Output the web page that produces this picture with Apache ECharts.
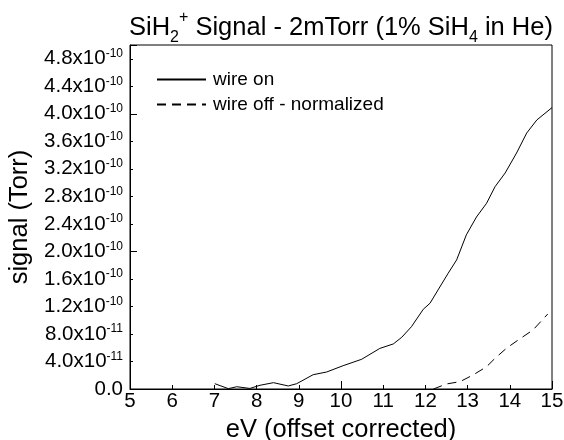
<!DOCTYPE html>
<html>
<head>
<meta charset="utf-8">
<script src="https://cdn.jsdelivr.net/npm/echarts@6/dist/echarts.min.js"></script>
<style>
html,body{margin:0;padding:0;background:#fff}
#main{width:564px;height:440px}
</style>
</head>
<body>
<div id="main"></div>
<script>
// eV (offset corrected)
var xWireOn=[7.01,7.33,7.53,7.84,8.08,8.40,8.75,8.95,9.34,9.66,10.05,10.49,10.92,11.24,11.44,11.67,11.95,12.11,12.30,12.54,12.74,12.97,13.21,13.45,13.65,13.89,14.16,14.40,14.64,15.0]
// signal, in units of 1e-10 Torr
var yWireOn=[0.077,0.005,0.033,0.008,0.054,0.092,0.044,0.077,0.208,0.247,0.339,0.432,0.59,0.655,0.752,0.906,1.159,1.247,1.44,1.683,1.876,2.24,2.5,2.70,2.94,3.14,3.43,3.72,3.91,4.09]
var xWireOff=[12.19,12.50,12.82,13.13,13.45,13.65,13.92,14.20,14.55,14.90]
var yWireOff=[0.0,0.073,0.107,0.204,0.324,0.446,0.592,0.713,0.858,1.09]
var yTicks=[0,0.4,0.8,1.2,1.6,2.0,2.4,2.8,3.2,3.6,4.0,4.4,4.8]
var seriesNames=['wire on','wire off - normalized']

var SCALE=1e-10

function pairs(xs,ys){
    var out=[]
    for(var i=0;i<xs.length;i++) out.push([xs[i],ys[i]*SCALE])
    return out
}

//y轴标签 4.0x10^-10
function sciLabel(v){
    if(Math.abs(v)<1e-15) return '{a|0.0}'
    var found=false
    for(var i=0;i<yTicks.length;i++){
        if(Math.abs(yTicks[i]*SCALE-v)<1e-13) found=true
    }
    if(!found) return ''
    var exp=Math.floor(Math.log10(v)+1e-9)
    var m=v/Math.pow(10,exp)
    return '{a|'+m.toFixed(1)+'x10}{b|'+exp+'}'
}

var font='Liberation Sans'
var myChart=echarts.init(document.getElementById('main'))
var option={
    backgroundColor:'#fff',
    animation:false,
    textStyle:{fontFamily:font,color:'#000'},
    title:{
        left:124,
        top:5,
        text:'SiH{sub|2}{sup|+} Signal - 2mTorr (1% SiH{sub|4} in He)',
        textStyle:{
            fontFamily:font,fontSize:25.5,fontWeight:'normal',color:'#000',lineHeight:36,
            rich:{
                sub:{fontFamily:font,fontSize:16,color:'#000',verticalAlign:'bottom',lineHeight:17},
                sup:{fontFamily:font,fontSize:16,color:'#000',verticalAlign:'top',lineHeight:17}
            }
        }
    },
    legend:{
        left:156,
        top:70,
        padding:0,
        orient:'vertical',
        itemWidth:49,
        itemHeight:18,
        itemGap:6,
        itemStyle:{opacity:0},
        textStyle:{fontFamily:font,fontSize:19,color:'#000',padding:[0,0,0,2]},
        data:seriesNames
    },
    grid:{left:130,right:12,top:45,bottom:51,show:true,borderColor:'#000',borderWidth:1,outerBoundsMode:'none',containLabel:false},
    xAxis:[{
        type:'value',min:5,max:15,interval:1,
        name:'eV (offset corrected)',nameLocation:'middle',nameGap:23,
        nameTextStyle:{fontFamily:font,fontSize:25.5,color:'#000'},
        axisLine:{lineStyle:{color:'#000'}},
        axisTick:{inside:true,length:4,lineStyle:{color:'#000'}},
        axisLabel:{fontFamily:font,fontSize:20.5,color:'#000',margin:2},
        splitLine:{show:false}
    },{
        type:'value',min:5,max:15,interval:5,position:'bottom',
        axisLine:{show:false},
        axisTick:{inside:true,length:8,lineStyle:{color:'#000'}},
        axisLabel:{show:false},
        splitLine:{show:false}
    }],
    yAxis:[{
        type:'value',min:0,max:5*SCALE,interval:0.4*SCALE,
        name:'signal (Torr)',nameLocation:'middle',nameGap:90,
        nameTextStyle:{fontFamily:font,fontSize:25.5,color:'#000'},
        axisLine:{show:true,lineStyle:{color:'#000'}},
        axisTick:{show:true,inside:true,length:3,lineStyle:{color:'#000'}},
        axisLabel:{
            margin:7,
            formatter:sciLabel,
            rich:{
                a:{fontFamily:font,fontSize:20.5,color:'#000',lineHeight:22},
                b:{fontFamily:font,fontSize:12,color:'#000',verticalAlign:'top',lineHeight:12}
            }
        },
        splitLine:{show:false}
    },{
        type:'value',min:0,max:5*SCALE,interval:2*SCALE,position:'left',
        axisLine:{show:false},
        axisTick:{show:true,inside:true,length:7,lineStyle:{color:'#000'}},
        axisLabel:{show:false},
        splitLine:{show:false}
    }],
    series:[{
        name:seriesNames[0],
        type:'line',
        symbol:'none',
        data:pairs(xWireOn,yWireOn),
        lineStyle:{color:'#000',width:1,type:'solid'},
        itemStyle:{color:'#000'}
    },{
        name:seriesNames[1],
        type:'line',
        symbol:'none',
        data:pairs(xWireOff,yWireOff),
        lineStyle:{color:'#000',width:1,type:[9,6]},
        itemStyle:{color:'#000'}
    }]
}
myChart.setOption(option)
</script>
</body>
</html>
